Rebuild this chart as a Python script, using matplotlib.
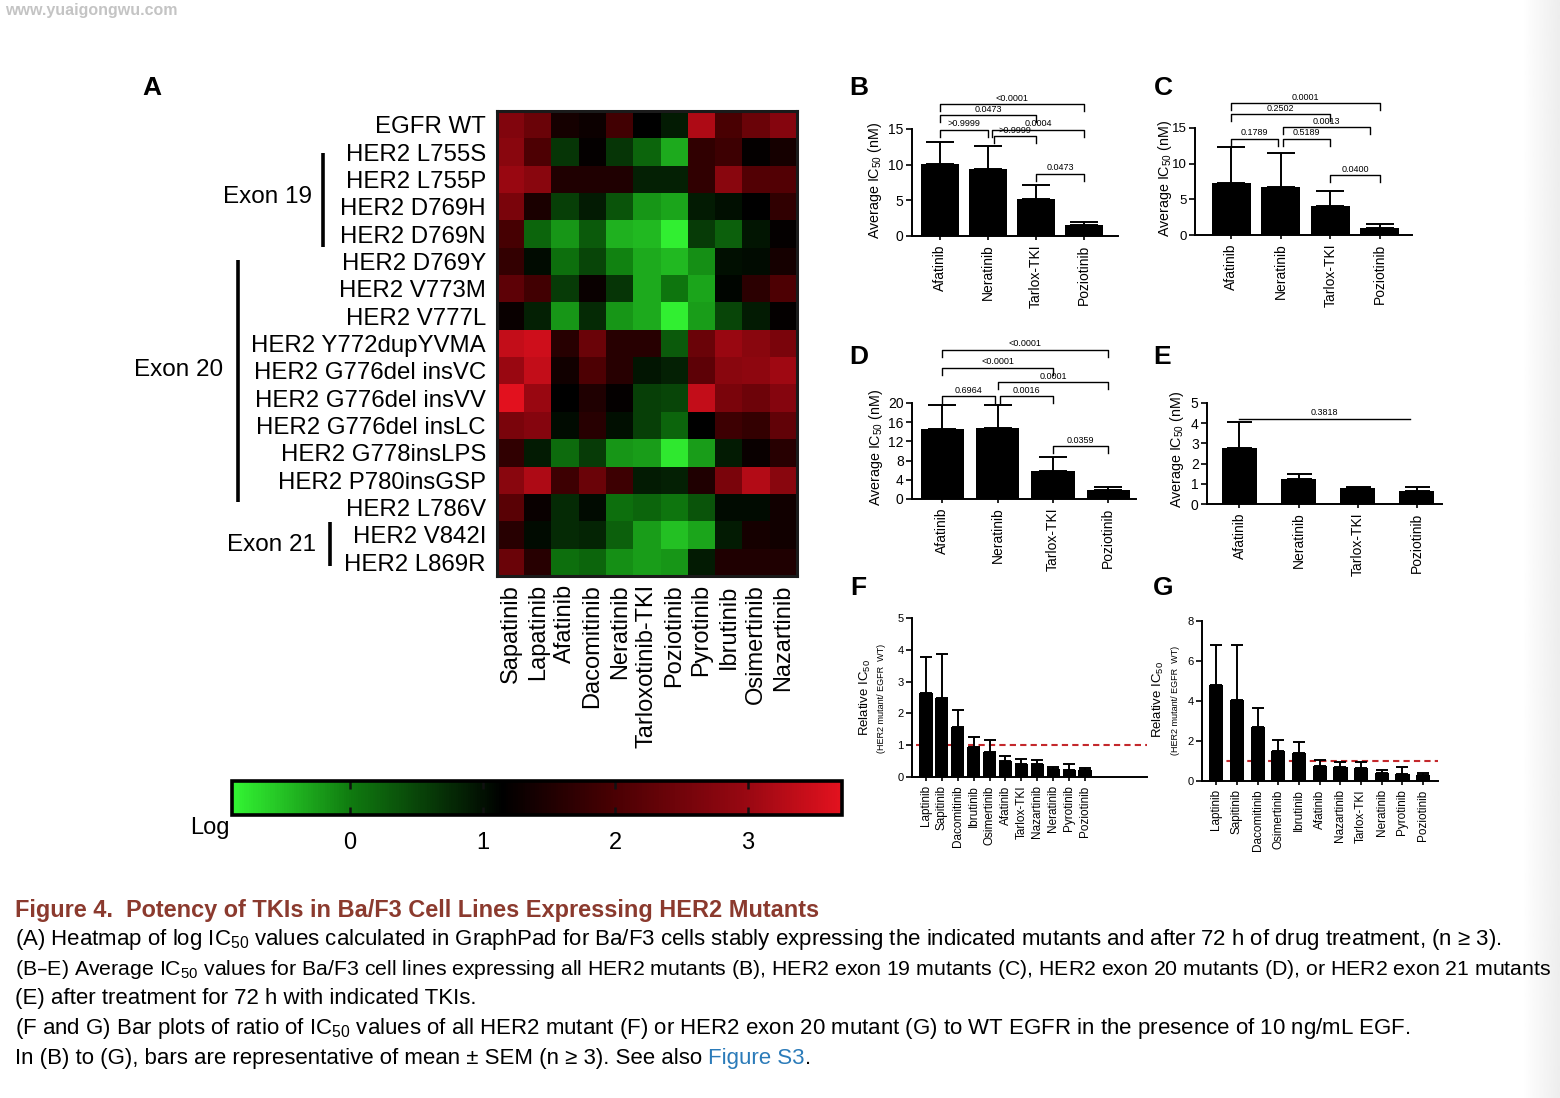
import numpy as np
import matplotlib
matplotlib.use('Agg')
import matplotlib.pyplot as plt
from matplotlib.colors import LinearSegmentedColormap, Normalize
from matplotlib.lines import Line2D

plt.rcParams['font.family'] = ['Liberation Sans', 'DejaVu Sans']
plt.rcParams['mathtext.default'] = 'regular'

# ---------------- data ----------------
mutants = ["EGFR WT", "HER2 L755S", "HER2 L755P", "HER2 D769H", "HER2 D769N",
           "HER2 D769Y", "HER2 V773M", "HER2 V777L", "HER2 Y772dupYVMA",
           "HER2 G776del insVC", "HER2 G776del insVV", "HER2 G776del insLC",
           "HER2 G778insLPS", "HER2 P780insGSP", "HER2 L786V", "HER2 V842I",
           "HER2 L869R"]
drugs = ["Sapatinib", "Lapatinib", "Afatinib", "Dacomitinib", "Neratinib",
         "Tarloxotinib-TKI", "Poziotinib", "Pyrotinib", "Ibrutinib",
         "Osimertinib", "Nazartinib"]
log_ic50 = [
    [2.70, 2.40, 1.40, 1.30, 1.90, 1.15, 0.90, 3.20, 2.00, 2.40, 2.75],
    [2.80, 2.05, 0.65, 1.20, 0.65, 0.20, -0.35, 1.70, 1.85, 1.20, 1.40],
    [3.00, 2.80, 1.50, 1.50, 1.50, 0.85, 0.85, 1.70, 2.80, 2.10, 2.10],
    [2.60, 1.45, 0.55, 0.90, 0.35, -0.20, -0.30, 0.90, 1.00, 1.15, 1.70],
    [1.95, 0.20, -0.20, 0.30, -0.40, -0.45, -0.85, 0.60, 0.25, 0.95, 1.20],
    [1.75, 1.05, 0.10, 0.50, -0.05, -0.35, -0.45, -0.15, 1.00, 1.05, 1.40],
    [2.25, 1.90, 0.60, 1.25, 0.65, -0.35, 0.05, -0.30, 1.10, 1.65, 2.05],
    [1.25, 0.85, -0.20, 0.75, -0.20, -0.35, -0.85, -0.25, 0.50, 0.90, 1.20],
    [3.40, 3.50, 1.60, 2.40, 1.60, 1.60, 0.30, 2.40, 3.00, 2.80, 2.60],
    [3.00, 3.40, 1.35, 2.05, 1.60, 0.95, 0.85, 2.25, 2.80, 2.85, 3.05],
    [3.70, 3.00, 1.15, 1.50, 1.20, 0.55, 0.50, 3.40, 2.60, 2.45, 2.75],
    [2.60, 2.75, 1.05, 1.60, 1.00, 0.55, 0.20, 1.15, 1.85, 1.75, 2.30],
    [1.70, 0.90, 0.15, 0.60, -0.20, -0.25, -0.80, -0.25, 0.90, 1.25, 1.60],
    [2.80, 3.20, 1.85, 2.40, 1.85, 0.90, 0.85, 1.50, 2.60, 3.25, 2.80],
    [2.20, 1.25, 0.75, 1.05, 0.10, 0.20, 0.05, 0.35, 1.05, 1.05, 1.35],
    [1.60, 1.05, 0.75, 0.80, 0.25, -0.25, -0.50, -0.30, 0.90, 1.40, 1.35],
    [2.40, 1.60, 0.10, 0.20, -0.15, -0.25, -0.20, 0.90, 1.50, 1.50, 1.50],
]
cbar_ticks = [0, 1, 2, 3]
cbar_min, cbar_max = -0.89, 3.71

tki4 = ["Afatinib", "Neratinib", "Tarlox-TKI", "Poziotinib"]
b_mean = [10.1, 9.4, 5.2, 1.6]
b_sem = [3.1, 3.2, 2.0, 0.4]
b_pvals = [(0, 3, 18.5, "<0.0001"), (0, 2, 16.9, "0.0473"), (0, 1, 14.9, ">0.9999"),
           (1.08, 3, 14.9, "0.0004"), (1.12, 2, 14.0, ">0.9999"), (2, 3, 8.7, "0.0473")]
c_mean = [7.3, 6.7, 4.0, 1.0]
c_sem = [5.0, 4.8, 2.1, 0.6]
c_pvals = [(0, 3, 18.5, "0.0001"), (0, 2, 16.9, "0.2502"), (1.05, 2.8, 15.1, "0.0013"),
           (0, 0.95, 13.5, "0.1789"), (1.05, 2, 13.5, "0.5189"), (2, 3, 8.4, "0.0400")]
d_mean = [14.6, 14.7, 5.9, 1.9]
d_sem = [5.0, 4.8, 2.9, 0.6]
d_pvals = [(0, 3, 31.1, "<0.0001"), (0, 2, 27.3, "<0.0001"), (1, 3, 24.3, "0.0001"),
           (0, 0.95, 21.4, "0.6964"), (1.05, 2, 21.4, "0.0016"), (2, 3, 11.0, "0.0359")]
e_mean = [2.75, 1.22, 0.80, 0.62]
e_sem = [1.30, 0.28, 0.05, 0.20]
e_pvals = [(0, 2.88, 4.22, "0.3818")]

f_drugs = ["Laptinib", "Sapitinib", "Dacomitinib", "Ibrutinib", "Osimertinib",
           "Afatinib", "Tarlox-TKI", "Nazartinib", "Neratinib", "Pyrotinib", "Poziotinib"]
f_mean = [2.65, 2.50, 1.57, 0.95, 0.80, 0.50, 0.42, 0.40, 0.25, 0.22, 0.22]
f_sem = [1.13, 1.38, 0.55, 0.30, 0.35, 0.17, 0.16, 0.15, 0.08, 0.20, 0.05]
g_drugs = ["Laptinib", "Sapitinib", "Dacomitinib", "Osimertinib", "Ibrutinib",
           "Afatinib", "Nazartinib", "Tarlox-TKI", "Neratinib", "Pyrotinib", "Poziotinib"]
g_mean = [4.82, 4.07, 2.68, 1.50, 1.40, 0.77, 0.70, 0.65, 0.40, 0.35, 0.30]
g_sem = [1.96, 2.71, 0.95, 0.57, 0.57, 0.26, 0.23, 0.32, 0.15, 0.35, 0.10]
ref_ratio = 1.0

title = "Figure 4.  Potency of TKIs in Ba/F3 Cell Lines Expressing HER2 Mutants"
caption = [
    "(A) Heatmap of log IC$_{50}$ values calculated in GraphPad for Ba/F3 cells stably expressing the indicated mutants and after 72 h of drug treatment, (n \u2265 3).",
    "(B\u2013E) Average IC$_{50}$ values for Ba/F3 cell lines expressing all HER2 mutants (B), HER2 exon 19 mutants (C), HER2 exon 20 mutants (D), or HER2 exon 21 mutants",
    "(E) after treatment for 72 h with indicated TKIs.",
    "(F and G) Bar plots of ratio of IC$_{50}$ values of all HER2 mutant (F) or HER2 exon 20 mutant (G) to WT EGFR in the presence of 10 ng/mL EGF.",
    "In (B) to (G), bars are representative of mean \u00b1 SEM (n \u2265 3). See also ",
]
caption_link = "Figure S3"

# ---------------- figure ----------------
W, H = 1560, 1098
fig = plt.figure(figsize=(W / 100, H / 100), dpi=100)
fig.patch.set_facecolor('white')


def ax_px(l, t, r, b):
    return fig.add_axes([l / W, 1 - b / H, (r - l) / W, (b - t) / H])


def fx(x):
    return x / W


def fy(y):
    return 1 - y / H


def vline_px(x, y1, y2, lw=2.6):
    fig.add_artist(Line2D([fx(x), fx(x)], [fy(y1), fy(y2)], lw=lw, color='k',
                          solid_capstyle='butt'))


# right edge page shadow
axs = ax_px(1522, 0, 1560, 1098)
axs.imshow(np.linspace(1.0, 0.93, 64)[None, :], cmap='gray', vmin=0, vmax=1,
           aspect='auto', extent=[0, 1, 0, 1])
axs.axis('off')

# watermark
fig.text(fx(5), fy(11), "www.yuaigongwu.com", fontsize=11.5, weight='bold',
         color='#c4c4c4', ha='left', va='center')

# colormap
vmin, vmax = cbar_min, cbar_max
span = vmax - vmin
nodes = [(-0.89, (0.20, 0.96, 0.20)), (0.0, (0.06, 0.48, 0.06)),
         (1.15, (0.0, 0.0, 0.0)), (2.0, (0.29, 0.0, 0.01)),
         (3.0, (0.60, 0.03, 0.07)), (3.71, (0.89, 0.07, 0.12))]
cmap = LinearSegmentedColormap.from_list(
    'gkr', [((v - vmin) / span, c) for v, c in nodes])

# heatmap
axh = ax_px(497, 111, 797, 576)
axh.imshow(np.array(log_ic50), cmap=cmap, vmin=vmin, vmax=vmax, aspect='auto',
           interpolation='nearest')
axh.set_yticks(range(len(mutants)))
axh.set_yticklabels(mutants, fontsize=17.3)
axh.set_xticks(range(len(drugs)))
axh.set_xticklabels(drugs, rotation=90, fontsize=17)
axh.tick_params(axis='y', length=0, pad=8)
axh.tick_params(axis='x', length=0, pad=6)
for s in axh.spines.values():
    s.set_linewidth(2.2)
    s.set_color('#1a1a1a')

# exon annotations
fig.text(fx(312), fy(197), "Exon 19", fontsize=17.5, ha='right', va='center')
vline_px(323, 153, 247)
fig.text(fx(223), fy(370), "Exon 20", fontsize=17.5, ha='right', va='center')
vline_px(238, 260, 502)
fig.text(fx(316), fy(545), "Exon 21", fontsize=17.5, ha='right', va='center')
vline_px(330, 522, 566)

# colorbar
cax = ax_px(232, 781, 842, 815)
sm = matplotlib.cm.ScalarMappable(norm=Normalize(vmin, vmax), cmap=cmap)
cb = fig.colorbar(sm, cax=cax, orientation='horizontal', ticks=cbar_ticks)
cb.outline.set_linewidth(2.6)
cax.tick_params(direction='in', length=6, width=1.8, top=True, bottom=True,
                labelsize=17, pad=12, color='#111111')
fig.text(fx(210), fy(828), "Log", fontsize=17, ha='center', va='center')

# panel letters
for lab, (x, y) in {"A": (152, 88), "B": (859, 88), "C": (1163, 88),
                    "D": (859, 357), "E": (1162, 357), "F": (858, 588),
                    "G": (1163, 588)}.items():
    fig.text(fx(x), fy(y), lab, fontsize=19, weight='bold', ha='center', va='center')


def style_axes(ax, fs_y, fs_x):
    for s in ['top', 'right']:
        ax.spines[s].set_visible(False)
    for s in ['left', 'bottom']:
        ax.spines[s].set_linewidth(1.4)
    ax.tick_params(axis='y', labelsize=fs_y, length=4, width=1.2, pad=2)
    ax.tick_params(axis='x', labelsize=fs_x, length=3, width=1.2, pad=3)


def bar_panel(rect, names, means, sems, ylim, yticks, xlim, width, capsize,
              fs_y, fs_x, pvals=None, drop_px=7, flat=False):
    ax = ax_px(*rect)
    x = np.arange(len(names))
    ax.bar(x, means, width, color='k', zorder=3,
           yerr=[np.zeros(len(sems)), sems],
           error_kw=dict(ecolor='k', elinewidth=1.4, capsize=capsize, capthick=1.4,
                         zorder=4))
    ax.set_xlim(*xlim)
    ax.set_ylim(*ylim)
    ax.set_yticks(yticks)
    ax.set_xticks(x)
    ax.set_xticklabels(names, rotation=90)
    style_axes(ax, fs_y, fs_x)
    if pvals:
        hpx = rect[3] - rect[1]
        drop = drop_px * (ylim[1] - ylim[0]) / hpx
        txt_off = 1.5 * (ylim[1] - ylim[0]) / hpx
        for i, j, y, lab in pvals:
            if flat:
                ax.plot([i, j], [y, y], color='k', lw=1.0, clip_on=False)
            else:
                ax.plot([i, i, j, j], [y - drop, y, y, y - drop], color='k',
                        lw=1.0, clip_on=False)
            ax.text((i + j) / 2, y + txt_off, lab, ha='center', va='bottom',
                    fontsize=6.5, clip_on=False)
    return ax


# B
bar_panel((912, 129, 1118, 236), tki4, b_mean, b_sem, (0, 15), [0, 5, 10, 15],
          (-0.58, 3.7), 0.79, 10, 10, 10, b_pvals)
fig.text(fx(875), fy(180), "Average IC$_{50}$ (nM)", fontsize=10.3, rotation=90,
         ha='center', va='center')
# C
bar_panel((1195, 128, 1412, 235), tki4, c_mean, c_sem, (0, 15), [0, 5, 10, 15],
          (-0.73, 3.65), 0.79, 10, 9.5, 10, c_pvals)
fig.text(fx(1165), fy(178), "Average IC$_{50}$ (nM)", fontsize=10.3, rotation=90,
         ha='center', va='center')
# D
bar_panel((912, 403, 1136, 499), tki4, d_mean, d_sem, (0, 20), [0, 4, 8, 12, 16, 20],
          (-0.55, 3.5), 0.78, 10, 10, 10, d_pvals)
fig.text(fx(876), fy(447), "Average IC$_{50}$ (nM)", fontsize=10.3, rotation=90,
         ha='center', va='center')
# E
bar_panel((1207, 403, 1442, 504), tki4, e_mean, e_sem, (0, 5), [0, 1, 2, 3, 4, 5],
          (-0.55, 3.43), 0.58, 9, 10, 10, e_pvals, flat=True)
fig.text(fx(1177), fy(449), "Average IC$_{50}$ (nM)", fontsize=10.3, rotation=90,
         ha='center', va='center')

# F
axf = bar_panel((912, 618, 1147, 777), f_drugs, f_mean, f_sem, (0, 5),
                [0, 1, 2, 3, 4, 5], (-0.88, 13.9), 0.82, 4, 8, 8.5)
axf.plot([-0.6, 13.9], [ref_ratio, ref_ratio], color='#c4282c', lw=1.5,
         ls=(0, (3, 2)), zorder=2, clip_on=False)
fig.text(fx(865), fy(698), "Relative IC$_{50}$", fontsize=9.5, rotation=90,
         ha='center', va='center')
fig.text(fx(882), fy(698), "(HER2 mutant/ EGFR  WT)", fontsize=6.5, rotation=90,
         ha='center', va='center')

# G
axg = bar_panel((1202, 621, 1438, 781), g_drugs, g_mean, g_sem, (0, 8),
                [0, 2, 4, 6, 8], (-0.69, 10.72), 0.69, 4, 8, 8.5)
axg.plot([0, 10.72], [ref_ratio, ref_ratio], color='#c4282c', lw=1.5,
         ls=(0, (3, 2)), zorder=2, clip_on=False)
fig.text(fx(1158), fy(700), "Relative IC$_{50}$", fontsize=9.5, rotation=90,
         ha='center', va='center')
fig.text(fx(1175), fy(700), "(HER2 mutant/ EGFR  WT)", fontsize=6.5, rotation=90,
         ha='center', va='center')

# caption (font size fitted to the reference line widths)
renderer = fig.canvas.get_renderer()


def fitted_size(s, target_w, weight='normal', base=14.0):
    t = fig.text(0, 0, s, fontsize=base, weight=weight)
    w = t.get_window_extent(renderer).width
    t.remove()
    return base * target_w / w


fs_title = fitted_size(title, 805, weight='bold')
fs_body = fitted_size(caption[0], 1492)
fs_line2 = min(fs_body, fitted_size(caption[1], 1540))
fig.text(fx(15), fy(917), title, fontsize=fs_title, weight='bold', color='#8b3a2e',
         ha='left', va='baseline')
baselines = [945, 975, 1004, 1034, 1064]
sizes = [fs_body, fs_line2, fs_body, fs_body, fs_body]
last = None
for s, yb, fs in zip(caption, baselines, sizes):
    last = fig.text(fx(15), fy(yb), s, fontsize=fs, ha='left', va='baseline')
bb = last.get_window_extent(renderer)
link = fig.text(bb.x1 / W, fy(1064), caption_link, fontsize=fs_body, color='#2b7bb9',
                ha='left', va='baseline')
bb2 = link.get_window_extent(renderer)
fig.text(bb2.x1 / W, fy(1064), ".", fontsize=fs_body, ha='left', va='baseline')

fig.savefig('out.png', dpi=100)
